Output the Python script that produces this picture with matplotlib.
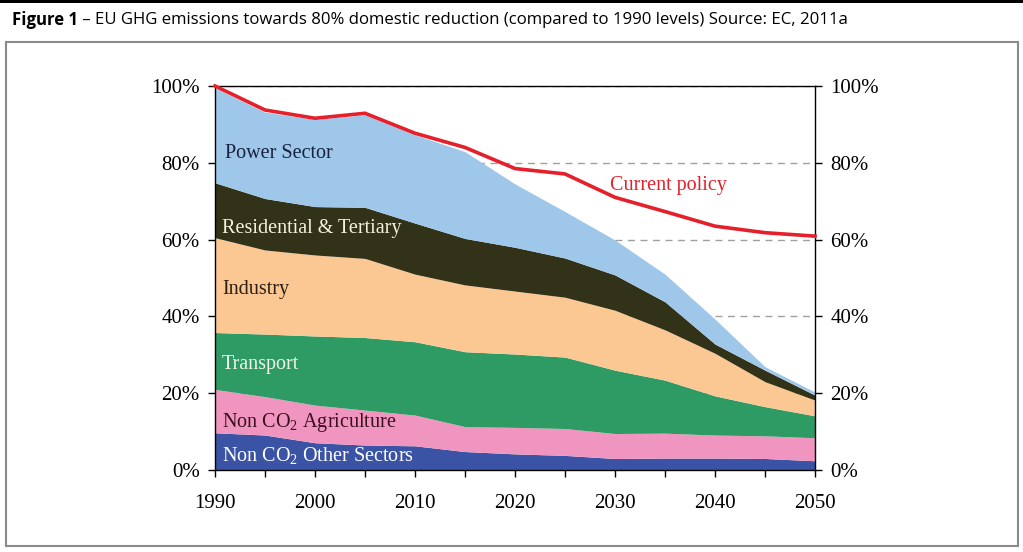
import matplotlib.pyplot as plt
from matplotlib.patches import Rectangle

plt.rcParams['mathtext.fontset'] = 'custom'
plt.rcParams['mathtext.rm'] = 'Liberation Serif'

years = [1990, 1995, 2000, 2005, 2010, 2015, 2020, 2025, 2030, 2035, 2040, 2045, 2050]

# cumulative tops of each stacked band (% of 1990 emissions)
other_top = [9.7, 9.1, 7.1, 6.5, 6.3, 4.8, 4.2, 3.8, 3.0, 3.1, 3.1, 3.0, 2.4]
agri_top = [21.0, 19.1, 16.9, 15.6, 14.3, 11.3, 11.1, 10.8, 9.5, 9.6, 9.1, 8.9, 8.4]
transport_top = [35.8, 35.4, 34.9, 34.5, 33.4, 30.8, 30.2, 29.4, 26.0, 23.4, 19.3, 16.5, 14.1]
industry_top = [60.5, 57.3, 56.0, 55.1, 51.0, 48.2, 46.6, 45.0, 41.6, 36.5, 30.4, 23.0, 18.2]
resid_top = [74.8, 70.7, 68.6, 68.4, 64.3, 60.3, 58.0, 55.2, 50.8, 43.8, 32.8, 26.0, 19.5]
power_top = [99.5, 93.2, 91.3, 92.5, 87.3, 82.9, 74.5, 67.3, 59.9, 51.0, 39.3, 26.9, 20.3]
current_policy = [100, 93.75, 91.6, 92.9, 87.7, 84.0, 78.5, 77.1, 71.0, 67.3, 63.5, 61.8, 60.9]

bands = [
    ("Non CO$_2$ Other Sectors", [0] * len(years), other_top, "#3b53a4", "white", 3.6),
    ("Non CO$_2$ Agriculture", other_top, agri_top, "#f095c0", "#3a0f1e", 12.5),
    ("Transport", agri_top, transport_top, "#2e9a64", "#eef7e6", 27.6),
    ("Industry", transport_top, industry_top, "#fbc894", "#2a1e10", 47.1),
    ("Residential & Tertiary", industry_top, resid_top, "#323218", "#f6f1dc", 63.0),
    ("Power Sector", resid_top, power_top, "#9fc7e9", "#18213e", 82.5),
]

fig = plt.figure(figsize=(10.23, 5.52), dpi=100)
ax = fig.add_axes([215 / 1023, 82 / 552, 600 / 1023, 384 / 552])

serif = "Liberation Serif"
for name, lo, hi, col, tcol, ty in bands:
    ax.fill_between(years, lo, hi, color=col, lw=0)
    xt = 1991.0 if name == "Power Sector" else 1990.7
    ax.text(xt, ty, name, color=tcol, fontsize=14.5, family=serif, va="center", ha="left")

ax.plot(years, current_policy, color="#e5202b", lw=2.6, zorder=5, clip_on=False)
ax.text(2029.5, 74.2, "Current policy", color="#e5202b", fontsize=14.5, family=serif,
        va="center", ha="left")

ax.set_xlim(1990, 2050)
ax.set_ylim(0, 100)
ax.set_xticks(range(1990, 2051, 10))
ax.set_xticks(range(1995, 2050, 10), minor=True)
ax.set_yticks(range(0, 101, 20))
ax.set_yticklabels([f"{v}%" for v in range(0, 101, 20)])
ax.set_axisbelow(True)
ax.yaxis.grid(True, color="#a0a0a0", ls=(0, (5, 4)), lw=1)
ax.tick_params(which="both", direction="out", length=5, width=1, labelsize=15, pad=6)
ax.tick_params(axis="x", pad=12)
ax.tick_params(axis="y", left=True, right=True, labelright=True)
for lab in ax.get_xticklabels() + ax.get_yticklabels():
    lab.set_family(serif)
for s in ax.spines.values():
    s.set_linewidth(1)

# outer frame and header bar
fig.patches.append(Rectangle((6 / 1023, 6 / 552), 1012 / 1023, 504 / 552, transform=fig.transFigure,
                             fill=False, ec="#8a8a8a", lw=1.5))
fig.patches.append(Rectangle((0, 549 / 552), 1, 3 / 552, transform=fig.transFigure,
                             color="black", lw=0))
t1 = fig.text(12 / 1023, 1 - 20 / 552, "Figure 1", fontsize=12.1, fontweight="bold",
              family="Open Sans", va="center", ha="left")
ax.annotate(" \u2013 EU GHG emissions towards 80% domestic reduction (compared to 1990 levels) Source: EC, 2011a",
            xy=(1, 0.5), xycoords=t1, va="center", ha="left", fontsize=12.1, family="Open Sans",
            annotation_clip=False)

plt.savefig("out.png", dpi=100)
